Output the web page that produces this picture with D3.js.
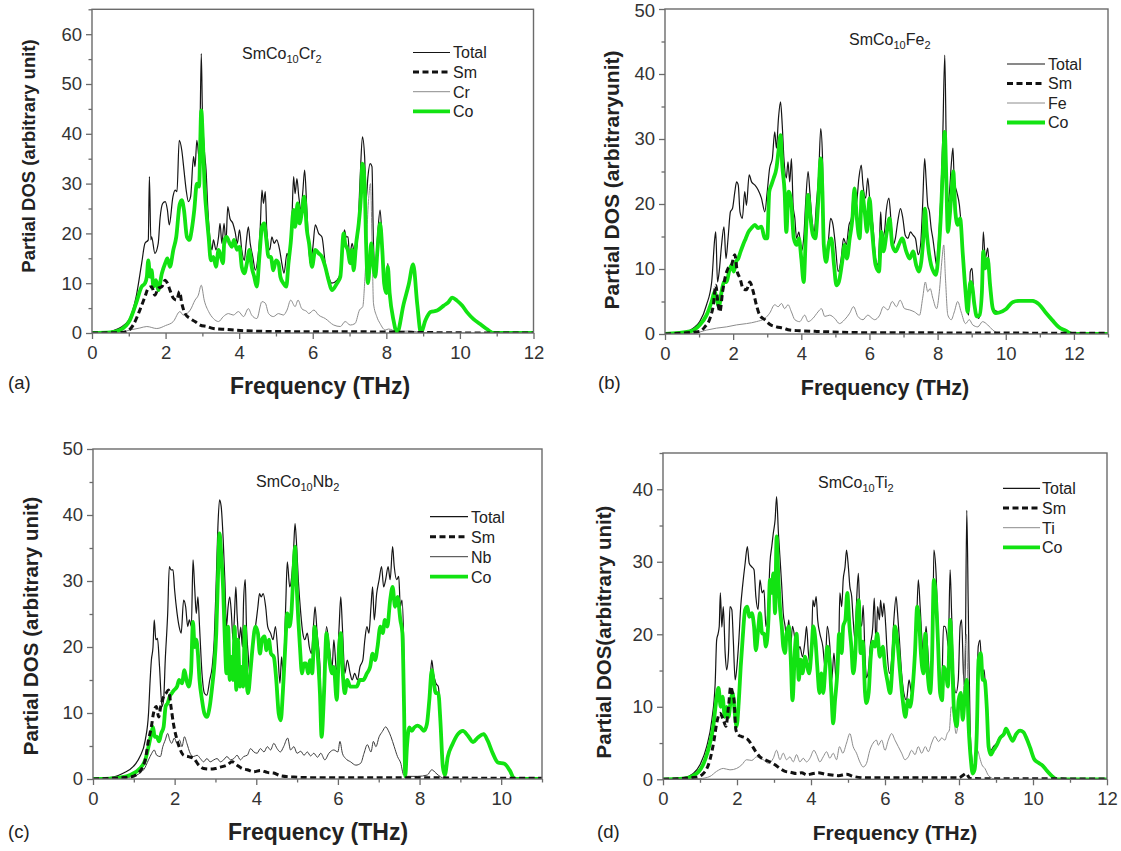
<!DOCTYPE html>
<html>
<head>
<meta charset="utf-8">
<script src="https://cdn.jsdelivr.net/npm/d3@7"></script>
<style>
  body { margin: 0; background: #fff; }
  svg { display: block; font-family: "Liberation Sans", Arial, sans-serif; }
</style>
</head>
<body>
<svg id="chart" width="1121" height="851"></svg>
<script>
// ---------- Phonon partial DOS, [frequency THz, DOS] ----------

// (a) SmCo10Cr2
const totalA = [[0,0],[0.3,0],[0.5,0.3],[0.75,1.0],[1.0,2.6],[1.2,7.3],[1.35,14],[1.44,18],[1.53,18.7],[1.56,31.4],[1.6,18.7],[1.62,19.3],[1.71,16],[1.8,18],[1.85,23],[1.92,26],[1.99,26.4],[2.05,24.7],[2.1,21.7],[2.2,27.4],[2.26,28.7],[2.31,28.4],[2.37,38.7],[2.44,36.7],[2.5,32.7],[2.56,28.7],[2.62,26.4],[2.68,27.4],[2.76,35.4],[2.8,33.4],[2.85,38.7],[2.92,34.7],[2.97,56.1],[3.0,44.7],[3.05,37],[3.1,32.7],[3.15,24.7],[3.21,18.7],[3.26,16.7],[3.3,18.7],[3.37,16.7],[3.44,19.3],[3.48,22],[3.53,18],[3.59,22],[3.64,18],[3.69,25.4],[3.75,23],[3.83,22],[3.89,20.3],[3.95,18],[4.01,20.7],[4.07,16.7],[4.14,14.6],[4.19,18],[4.25,21.3],[4.3,18],[4.37,15.3],[4.44,12.6],[4.5,14.6],[4.57,20.7],[4.62,28.7],[4.66,26],[4.71,28.4],[4.75,20.7],[4.83,16.7],[4.89,19.3],[4.95,18],[5.02,18.7],[5.1,16.7],[5.16,14],[5.22,12],[5.3,16],[5.37,14.6],[5.43,22],[5.48,31.4],[5.52,28],[5.57,31],[5.62,27.4],[5.68,24.7],[5.73,28.4],[5.78,32.7],[5.84,24.7],[5.93,14],[6.0,17],[6.07,21.7],[6.16,20],[6.25,19.3],[6.34,14],[6.43,11.3],[6.52,10],[6.66,10.6],[6.75,12],[6.82,17.3],[6.86,20.7],[6.91,19.3],[6.96,19.3],[7.0,15.3],[7.07,18],[7.15,15.3],[7.22,19.3],[7.29,31.4],[7.35,39.4],[7.41,35.4],[7.45,26.7],[7.5,31.4],[7.56,34],[7.61,33.4],[7.65,18],[7.7,12.6],[7.76,19.3],[7.83,24.7],[7.89,18],[7.94,11.3],[8.0,8.6],[8.04,14],[8.09,8.6],[8.2,2.6],[8.29,0.3],[8.47,6],[8.61,10],[8.73,14],[8.84,6],[8.94,0.3],[9.06,2.6],[9.2,4.3],[9.38,4.6],[9.56,5.6],[9.69,6.3],[9.79,7.2],[9.92,6.6],[10.06,5.6],[10.19,4.3],[10.37,2.9],[10.55,1.9],[10.73,0.9],[10.92,0.1],[11.0,0],[12,0]];
const smA = [[0,0],[0.8,0.1],[0.94,0.3],[1.12,1.6],[1.3,4.6],[1.44,7.3],[1.53,9],[1.62,9.3],[1.71,7.6],[1.8,9],[1.9,9.3],[1.99,10.6],[2.05,10],[2.12,8.6],[2.21,7],[2.3,6.6],[2.38,8.3],[2.44,6],[2.53,3.9],[2.67,2.9],[2.8,2.3],[2.94,1.6],[3.12,1.3],[3.3,0.9],[3.66,0.7],[4.03,0.5],[5,0.3],[8,0.2],[9,0.1],[11,0],[12,0]];
const crA = [[0,0],[0.8,0.2],[1.03,0.6],[1.3,1.0],[1.49,1.3],[1.76,0.9],[2.0,1.5],[2.21,2.3],[2.39,4.3],[2.48,3.6],[2.67,4.6],[2.8,6.6],[2.89,7.6],[2.97,9.6],[3.05,6.6],[3.17,4.3],[3.3,2.9],[3.44,2.3],[3.57,3.3],[3.71,3.9],[3.84,3.6],[3.98,4.3],[4.12,3.3],[4.25,4.9],[4.34,3.6],[4.48,2.9],[4.62,6.3],[4.71,6],[4.8,3.9],[4.93,3.3],[5.07,3.9],[5.2,3.6],[5.3,4.6],[5.4,6.6],[5.52,5.3],[5.6,6.6],[5.7,4.9],[5.84,4.3],[5.89,3.9],[6.03,4.6],[6.16,3.6],[6.34,2.9],[6.57,1.6],[6.75,1.3],[6.88,2.3],[7.02,1.6],[7.15,1.9],[7.27,4.6],[7.36,5.3],[7.42,11.3],[7.52,27],[7.57,30],[7.62,15],[7.65,6],[7.74,3.3],[7.83,1.9],[7.97,0.6],[8.06,0.8],[8.29,0.3],[8.65,0.4],[9.0,0.1],[9.3,0],[12,0]];
const coA = [[0,0],[0.5,0.1],[0.76,0.6],[1.03,2.6],[1.2,6],[1.35,9.3],[1.44,10],[1.49,11.3],[1.53,14.6],[1.58,11.3],[1.62,12.6],[1.67,9.3],[1.74,10.6],[1.8,8.6],[1.9,12],[1.99,14],[2.05,15],[2.12,13.3],[2.21,16.7],[2.29,19.3],[2.38,25.7],[2.44,26.7],[2.5,24.7],[2.58,19.3],[2.65,18.7],[2.71,20.7],[2.78,24.7],[2.85,30],[2.91,29.4],[2.97,44.7],[3.01,39.4],[3.06,29.4],[3.12,23.3],[3.17,19.3],[3.23,14.6],[3.3,15.3],[3.37,13.3],[3.44,16.7],[3.48,16],[3.56,14],[3.6,18.7],[3.66,19.3],[3.74,18],[3.8,17.3],[3.86,18.7],[3.94,16.7],[4.01,17.3],[4.07,13.3],[4.14,12],[4.21,14],[4.28,16.7],[4.34,13.3],[4.41,11.3],[4.48,9.3],[4.55,15.3],[4.62,21.3],[4.68,22],[4.73,19.3],[4.8,15.3],[4.86,15.3],[4.93,12.6],[5.0,14.6],[5.07,14],[5.12,11.3],[5.2,10],[5.28,9.3],[5.34,14],[5.4,18],[5.48,24.7],[5.52,21.3],[5.59,26],[5.64,22],[5.7,24],[5.77,27.4],[5.84,20.7],[5.9,18],[5.98,13.3],[6.07,16.7],[6.16,16],[6.25,15.3],[6.34,13.3],[6.43,10.6],[6.52,8.6],[6.66,10],[6.75,11.3],[6.84,20],[6.88,18],[6.95,16.7],[7.02,14],[7.07,16.7],[7.11,12.6],[7.18,18],[7.25,22],[7.31,27.4],[7.35,34],[7.41,30],[7.45,18],[7.5,10],[7.55,14],[7.59,18],[7.64,14],[7.7,11.3],[7.76,16.7],[7.83,22],[7.89,16.7],[7.94,10],[8.0,8],[8.04,13.3],[8.09,8],[8.2,2.4],[8.29,0],[8.47,5.8],[8.61,9.8],[8.73,13.8],[8.84,5.8],[8.94,0],[9.06,2.5],[9.2,4.2],[9.38,4.5],[9.56,5.5],[9.69,6.2],[9.79,7.1],[9.92,6.5],[10.06,5.5],[10.19,4.2],[10.37,2.8],[10.55,1.8],[10.73,0.8],[10.92,0],[12,0]];

// (b) SmCo10Fe2
const totalB = [[0,0],[0.54,0.2],[0.83,0.9],[1.02,1.9],[1.22,4.5],[1.37,8],[1.46,14.7],[1.49,15.7],[1.54,8],[1.59,9.6],[1.66,13.7],[1.73,16.5],[1.79,11.6],[1.85,14.7],[1.92,18.8],[1.98,19.3],[2.05,21.9],[2.1,23.4],[2.15,22.9],[2.2,18.8],[2.27,17.8],[2.34,21.9],[2.39,19.8],[2.47,24.5],[2.54,23.4],[2.64,22.9],[2.73,22.2],[2.83,20.9],[2.93,18.8],[3.0,21.9],[3.07,25.5],[3.15,27],[3.22,31.1],[3.27,28.6],[3.33,33.2],[3.39,35.7],[3.44,32.2],[3.49,27],[3.56,24],[3.61,26.5],[3.66,23.4],[3.71,27],[3.76,19.8],[3.81,17.8],[3.86,14.7],[3.93,15.7],[4.0,12.7],[4.07,14.7],[4.13,20.4],[4.2,25],[4.25,21.9],[4.31,17.8],[4.38,15.7],[4.44,19.8],[4.51,24.5],[4.57,31.6],[4.62,27.5],[4.66,15.7],[4.73,11.6],[4.8,14.7],[4.86,17.8],[4.93,16.8],[5.0,13.7],[5.08,9.6],[5.17,11.6],[5.24,14.7],[5.32,13.7],[5.4,16.8],[5.47,17.8],[5.53,21.9],[5.61,19.8],[5.69,24],[5.76,26],[5.81,22.9],[5.89,20.9],[5.95,24],[6.02,19.8],[6.1,16.8],[6.18,11.6],[6.25,10.6],[6.3,15.2],[6.33,18.8],[6.37,14.7],[6.44,15.7],[6.49,18.8],[6.57,20.9],[6.64,16.8],[6.69,13.7],[6.76,14.7],[6.83,17.3],[6.91,19.3],[6.98,17.8],[7.05,15.2],[7.13,14.7],[7.2,15.7],[7.28,15.2],[7.35,14.7],[7.43,12.2],[7.5,13.7],[7.56,19.8],[7.62,27],[7.66,24],[7.71,19.8],[7.76,18.8],[7.81,16.3],[7.86,14.7],[7.91,12.7],[7.97,10.6],[8.03,14.7],[8.1,21.9],[8.15,30.1],[8.21,42.9],[8.25,30.1],[8.28,19.8],[8.35,21.9],[8.4,26],[8.45,28.6],[8.49,23.4],[8.56,21.9],[8.64,19.8],[8.72,14.7],[8.79,9.6],[8.85,4.5],[8.91,2.9],[8.96,9.6],[9.01,10.1],[9.06,6],[9.13,2.9],[9.21,2.4],[9.28,4.5],[9.34,15.7],[9.4,11.6],[9.47,13.2],[9.52,9.6],[9.6,4.5],[9.66,3.7],[9.81,3.4],[10.0,3.9],[10.2,5],[10.39,5.2],[10.59,5.2],[10.78,5.2],[10.97,4.7],[11.17,3.4],[11.37,2.2],[11.57,1.1],[11.76,0.6],[11.96,0.1],[12.1,0],[13,0]];
const smB = [[0,0],[1.02,0.4],[1.17,1.1],[1.32,2.4],[1.42,4.5],[1.49,7.5],[1.56,4.5],[1.61,3.4],[1.69,6.5],[1.76,8.6],[1.85,10.1],[1.95,10.6],[2.05,12.2],[2.12,9.6],[2.2,8.6],[2.29,7],[2.39,6.8],[2.49,8],[2.59,6.5],[2.68,4.5],[2.78,2.9],[2.93,2.2],[3.07,1.5],[3.27,1.1],[3.47,0.9],[3.66,0.6],[3.95,0.5],[4.44,0.4],[6,0.2],[10,0.15],[12,0.1],[13,0.1]];
const feB = [[0,0],[0.83,0.1],[1.22,0.6],[1.51,0.9],[1.81,1.1],[2.1,1.4],[2.39,1.6],[2.68,1.9],[2.93,2.4],[3.07,3.2],[3.22,4.5],[3.32,4.2],[3.42,4.7],[3.51,3.9],[3.61,4.5],[3.71,3.4],[3.81,2.2],[3.95,1.9],[4.1,2.9],[4.2,1.9],[4.34,2.4],[4.49,3.4],[4.59,3.9],[4.69,2.7],[4.83,2.9],[4.98,2.4],[5.12,1.6],[5.27,2.2],[5.42,3.2],[5.53,4.2],[5.66,2.7],[5.81,2.2],[5.95,2.9],[6.08,2.4],[6.15,2.2],[6.3,2.9],[6.41,4.2],[6.54,3.7],[6.67,5],[6.79,4.2],[6.9,5.2],[7.03,3.9],[7.18,3.7],[7.32,3.4],[7.47,2.9],[7.56,5.5],[7.64,8],[7.71,6.5],[7.78,7],[7.86,5.5],[7.97,3.9],[8.05,6.5],[8.13,11.6],[8.18,13.7],[8.23,8.6],[8.3,2.9],[8.4,2.2],[8.49,3.4],[8.59,5],[8.69,3.4],[8.82,1.6],[8.93,2.2],[9.03,1.4],[9.18,1.1],[9.32,1.9],[9.47,1.4],[9.62,0.6],[9.81,0.1],[10,0],[13,0]];
const coB = [[0,0],[0.73,0.4],[1.02,1.4],[1.22,2.9],[1.37,5],[1.46,6.5],[1.51,5.5],[1.58,4.2],[1.66,6.5],[1.73,8],[1.81,8],[1.88,9.6],[1.95,10.6],[2.02,9.6],[2.08,11.1],[2.15,11.6],[2.22,12.7],[2.29,13.7],[2.37,14.7],[2.45,15.7],[2.54,16.3],[2.64,16.8],[2.73,16.3],[2.83,16.5],[2.93,14.7],[3.0,14.7],[3.06,21.9],[3.12,22.9],[3.19,24],[3.27,25.5],[3.33,28.1],[3.39,30.6],[3.44,26],[3.51,21.9],[3.56,15.7],[3.63,21.9],[3.71,19.8],[3.78,14.7],[3.86,13.7],[3.93,14.7],[4.0,11.6],[4.07,8],[4.13,14.7],[4.2,21.4],[4.27,17.8],[4.34,15.2],[4.41,14.7],[4.49,19.8],[4.57,27],[4.62,21.9],[4.66,13.7],[4.73,11.1],[4.8,13.7],[4.88,14.7],[4.96,10.6],[5.03,7.5],[5.1,8],[5.2,11.1],[5.27,13.7],[5.34,11.6],[5.42,14.7],[5.5,17.8],[5.56,22.4],[5.63,17.8],[5.71,14.7],[5.78,21.9],[5.86,18.8],[5.93,15.7],[6.0,20.9],[6.08,15.7],[6.18,10.6],[6.28,9.6],[6.35,15.7],[6.41,12.7],[6.51,15.7],[6.59,17.8],[6.67,13.7],[6.77,12.7],[6.86,13.7],[6.96,14.7],[7.08,12.7],[7.18,11.6],[7.28,12.7],[7.37,10.6],[7.45,9.6],[7.52,11.1],[7.58,14.7],[7.63,19.3],[7.68,15.7],[7.74,12.7],[7.81,10.6],[7.88,9.6],[7.95,9.1],[8.03,12.7],[8.1,18.8],[8.15,25],[8.21,31.1],[8.25,25],[8.3,15.7],[8.35,17.8],[8.41,21.9],[8.46,25],[8.52,18.8],[8.59,16.8],[8.66,17.8],[8.74,12.2],[8.82,6.5],[8.88,3.4],[8.96,8],[9.01,7.5],[9.08,4.5],[9.15,2.7],[9.23,2.9],[9.3,6.5],[9.34,12.7],[9.4,10.1],[9.47,11.6],[9.54,7.5],[9.62,3.9],[9.71,3.2],[9.81,3.3],[10.0,3.8],[10.2,4.9],[10.39,5.1],[10.59,5.1],[10.78,5.1],[10.97,4.6],[11.17,3.3],[11.37,2.1],[11.57,1.0],[11.76,0.5],[11.96,0],[13,0]];

// (c) SmCo10Nb2
const totalC = [[0,0],[0.5,0.3],[0.75,0.9],[0.99,1.9],[1.15,3.4],[1.28,5.9],[1.36,9.9],[1.4,15],[1.43,18],[1.47,20],[1.5,24.1],[1.54,21.1],[1.58,21.3],[1.63,17],[1.69,11],[1.73,12],[1.77,18],[1.83,25.1],[1.87,32.2],[1.91,31.7],[1.96,31.7],[2.0,28.6],[2.06,25.1],[2.11,23.1],[2.16,22.1],[2.22,27.1],[2.27,26.1],[2.32,23.1],[2.36,24.1],[2.41,23.1],[2.45,33.2],[2.49,29.1],[2.53,25.1],[2.57,27.6],[2.61,23.1],[2.67,16],[2.73,13],[2.79,12.7],[2.86,15],[2.92,17],[2.97,21.1],[3.02,30.2],[3.06,38.2],[3.1,42.3],[3.14,41.3],[3.19,36.2],[3.23,30.2],[3.27,23.1],[3.31,26.1],[3.35,27.6],[3.39,25.1],[3.43,21.1],[3.46,24],[3.5,29.1],[3.53,25],[3.58,21.1],[3.62,23],[3.66,20],[3.69,27.1],[3.73,30.2],[3.76,23.1],[3.8,19],[3.84,16],[3.88,18],[3.92,21.1],[3.98,23.1],[4.04,26.1],[4.08,28.1],[4.12,27.6],[4.17,28.1],[4.23,26.1],[4.28,23.1],[4.35,22.1],[4.41,21.1],[4.47,23.1],[4.53,19],[4.58,14.5],[4.62,18.5],[4.66,16],[4.72,26.1],[4.76,32.9],[4.82,29.1],[4.86,30.2],[4.91,34.2],[4.95,38.7],[4.99,35.2],[5.03,30.2],[5.09,25.1],[5.14,22.1],[5.19,21.1],[5.25,22.1],[5.3,20],[5.35,19],[5.4,23.1],[5.44,26.1],[5.49,22.1],[5.56,17],[5.6,6.9],[5.66,16],[5.72,23.1],[5.79,20],[5.86,17],[5.9,21.1],[5.97,16],[6.03,23.1],[6.07,27.6],[6.11,23],[6.17,16],[6.23,18],[6.3,16],[6.35,15],[6.41,16],[6.48,15],[6.54,17],[6.61,18],[6.66,21.1],[6.71,23.1],[6.76,22.1],[6.81,26.1],[6.85,29.1],[6.89,24.1],[6.95,28.1],[7.01,30.2],[7.07,32.2],[7.12,29.1],[7.17,30.2],[7.23,32.2],[7.28,30.2],[7.34,35.2],[7.38,32.2],[7.44,30.2],[7.49,30.7],[7.53,26.1],[7.57,27.1],[7.61,21.1],[7.65,0.9],[7.69,4.9],[7.75,7.9],[7.81,7.4],[7.87,7.9],[7.95,8.2],[8.03,7.9],[8.11,7.4],[8.18,8.4],[8.24,13],[8.3,18],[8.34,16],[8.4,14.5],[8.46,14],[8.51,9.9],[8.57,2.9],[8.62,1.4],[8.69,3.4],[8.81,5.4],[8.94,6.9],[9.06,7.4],[9.18,6.7],[9.31,5.7],[9.43,6.4],[9.57,6.9],[9.67,5.9],[9.8,3.9],[9.92,2.6],[10.08,2.4],[10.21,1.4],[10.33,0.1],[10.4,0],[11,0]];
const smC = [[0,0],[0.91,0.3],[1.11,0.9],[1.28,2.9],[1.36,5.9],[1.43,7.9],[1.48,9.9],[1.55,11],[1.61,9.4],[1.66,11],[1.73,12.5],[1.79,13],[1.85,13.5],[1.91,11],[1.97,8.4],[2.06,5.9],[2.14,4.4],[2.22,3.6],[2.34,3.4],[2.47,3.1],[2.59,2.1],[2.71,1.6],[2.87,1.5],[3.0,1.6],[3.12,1.8],[3.28,2.1],[3.41,2.6],[3.53,2.1],[3.65,1.6],[3.78,1.4],[3.94,1.1],[4.1,1.3],[4.27,1.0],[4.43,0.9],[4.59,0.5],[4.92,0.3],[5.41,0.2],[8,0.2],[10,0.1],[11,0.1]];
const nbC = [[0,0],[0.91,0.3],[1.24,1.4],[1.36,2.9],[1.44,3.9],[1.5,4.4],[1.56,3.6],[1.65,3.4],[1.71,4.9],[1.77,5.9],[1.83,6.9],[1.88,5.9],[1.93,5.4],[1.99,6.2],[2.06,5.4],[2.12,5.9],[2.18,4.9],[2.24,6.4],[2.3,5.4],[2.38,3.9],[2.46,3.4],[2.55,3.6],[2.63,3.1],[2.71,2.6],[2.79,3.1],[2.87,2.6],[2.96,2.9],[3.04,3.1],[3.12,2.6],[3.2,2.9],[3.28,3.4],[3.37,2.9],[3.45,3.1],[3.53,3.6],[3.61,2.9],[3.69,3.4],[3.78,3.6],[3.86,4.6],[3.94,4.1],[4.02,3.9],[4.1,4.6],[4.19,4.1],[4.27,4.9],[4.35,4.4],[4.43,5.4],[4.51,4.6],[4.59,4.1],[4.67,4.9],[4.77,6.2],[4.84,4.4],[4.92,4.9],[5.0,3.9],[5.09,4.2],[5.17,3.6],[5.25,4.1],[5.33,3.5],[5.41,3.9],[5.5,3.3],[5.58,3.9],[5.68,2.9],[5.78,3.9],[5.9,4.4],[6.0,4.1],[6.05,5.7],[6.11,3.9],[6.19,3.1],[6.31,2.6],[6.44,2.1],[6.56,2.4],[6.64,3.9],[6.72,5.2],[6.81,4.1],[6.87,5.7],[6.93,4.9],[7.01,6.4],[7.09,7.2],[7.17,7.9],[7.23,7.4],[7.3,6.4],[7.38,4.9],[7.46,3.4],[7.54,2.4],[7.61,0.6],[7.7,0.4],[7.95,0.4],[8.19,0.6],[8.3,1.4],[8.4,0.9],[8.52,0.3],[8.7,0],[11,0]];
const coC = [[0,0],[0.5,0.1],[0.91,0.6],[1.15,1.6],[1.28,2.9],[1.36,4.9],[1.43,6.9],[1.47,7.9],[1.51,6.4],[1.56,6.4],[1.62,5.7],[1.67,6.9],[1.73,7.9],[1.78,11],[1.83,11.5],[1.88,12.5],[1.93,13],[1.99,13.5],[2.06,14],[2.11,15],[2.18,14.5],[2.24,16.5],[2.29,15],[2.34,14],[2.4,16],[2.45,23.8],[2.49,20],[2.53,21.1],[2.57,19],[2.61,15],[2.67,12],[2.73,9.9],[2.79,9.4],[2.86,11],[2.92,14],[2.97,17],[3.02,22.1],[3.06,30.2],[3.1,37.2],[3.14,34.2],[3.19,28.6],[3.23,21.1],[3.27,16],[3.31,23.1],[3.35,15],[3.39,18.5],[3.43,15],[3.47,23.1],[3.51,13.5],[3.55,21.1],[3.6,14],[3.64,17],[3.68,14],[3.72,23.1],[3.76,15],[3.8,13],[3.86,16.5],[3.91,20],[3.98,23.1],[4.04,22.1],[4.09,19],[4.14,21.1],[4.2,21.6],[4.25,19.5],[4.31,21.1],[4.36,19],[4.43,18.5],[4.49,15],[4.55,9.9],[4.6,8.9],[4.65,13],[4.71,20],[4.76,25.1],[4.81,23.1],[4.86,25.1],[4.91,31.2],[4.95,35.2],[4.99,29.1],[5.03,24.1],[5.07,20],[5.12,16],[5.17,17.5],[5.22,17.5],[5.27,16],[5.32,18],[5.37,16],[5.43,23.1],[5.49,20],[5.56,13],[5.6,6.4],[5.66,13],[5.72,22.1],[5.79,18],[5.86,16],[5.9,17],[5.97,12],[6.03,20],[6.07,22.1],[6.11,17],[6.17,13],[6.23,15],[6.3,14],[6.38,14],[6.46,14],[6.54,15],[6.62,15],[6.71,16],[6.79,17],[6.85,19],[6.91,18],[6.97,20],[7.04,23.1],[7.1,22.1],[7.15,24.1],[7.21,23.1],[7.28,27.1],[7.34,29.1],[7.4,26.1],[7.46,27.6],[7.53,24.1],[7.58,22.1],[7.62,11],[7.65,0.4],[7.69,4.8],[7.75,7.8],[7.81,7.3],[7.87,7.8],[7.95,8.1],[8.03,7.8],[8.11,7.3],[8.18,8.3],[8.24,12],[8.3,16.5],[8.34,15],[8.4,13],[8.46,13],[8.51,8.9],[8.57,1.9],[8.62,0.6],[8.69,3.3],[8.81,5.3],[8.94,6.8],[9.06,7.3],[9.18,6.6],[9.31,5.6],[9.43,6.3],[9.57,6.8],[9.67,5.8],[9.8,3.8],[9.92,2.5],[10.08,2.3],[10.21,1.3],[10.33,0],[11,0]];

// (d) SmCo10Ti2
const totalD = [[0,0],[0.55,0.2],[0.82,0.8],[1.0,2],[1.18,4.5],[1.32,8.2],[1.41,13.2],[1.45,19.2],[1.49,20.1],[1.52,21.1],[1.55,25.7],[1.59,21],[1.63,23.8],[1.68,17.4],[1.72,15.1],[1.77,17.4],[1.81,23.8],[1.86,23.4],[1.9,19.2],[1.95,13.7],[1.99,15.1],[2.05,19.2],[2.1,23.8],[2.15,26.6],[2.22,29.8],[2.28,32.1],[2.33,29.8],[2.4,29.3],[2.46,28.9],[2.51,25.2],[2.57,23.4],[2.62,27.5],[2.68,25.7],[2.73,26.1],[2.78,21.1],[2.85,24.7],[2.89,29.8],[2.94,32.1],[2.98,33.9],[3.03,35.8],[3.07,39],[3.12,33.9],[3.16,30.7],[3.21,26.6],[3.25,22.9],[3.3,21.1],[3.34,19.2],[3.4,22],[3.45,18.3],[3.5,21.1],[3.57,19.2],[3.63,17.4],[3.7,18.3],[3.77,16.9],[3.84,19.2],[3.88,21.1],[3.93,17.4],[4.0,15.5],[4.05,24.7],[4.09,23.8],[4.14,25.2],[4.18,22],[4.24,20.1],[4.32,18.3],[4.38,15.5],[4.44,21.1],[4.51,18.3],[4.56,13.7],[4.62,17.4],[4.68,13.7],[4.74,15.5],[4.78,25.7],[4.83,23.8],[4.87,27.5],[4.92,29.3],[4.96,31.6],[5.01,29.3],[5.05,26.6],[5.1,25.2],[5.14,22],[5.19,19.2],[5.23,24.3],[5.28,28.4],[5.32,22.9],[5.37,21.1],[5.41,24],[5.46,17],[5.5,14],[5.55,15],[5.6,18.3],[5.67,21],[5.71,25],[5.76,18.3],[5.8,23.8],[5.85,22],[5.88,24.7],[5.93,22.4],[5.97,24.3],[6.02,21.1],[6.06,17.4],[6.12,14.6],[6.18,16.5],[6.24,22],[6.3,25.2],[6.34,22.9],[6.39,19.2],[6.45,14.6],[6.51,11.9],[6.58,10.9],[6.65,13.7],[6.72,11.9],[6.78,14.6],[6.84,19.2],[6.9,27.5],[6.95,23.8],[7.0,19.2],[7.05,16.5],[7.11,21.1],[7.15,18.3],[7.22,13.7],[7.29,18.3],[7.32,31.6],[7.38,28.4],[7.42,22.9],[7.46,14.6],[7.53,11.9],[7.58,21.1],[7.62,21.1],[7.67,20.1],[7.71,18.3],[7.76,28.9],[7.8,22.9],[7.85,14.6],[7.92,11.9],[7.98,13.7],[8.03,21.1],[8.07,22],[8.12,14.6],[8.16,12.8],[8.21,37.1],[8.25,23.8],[8.3,7.3],[8.35,2.7],[8.41,1.3],[8.46,5.4],[8.52,18.3],[8.57,19.2],[8.62,14.6],[8.68,15.1],[8.73,10.9],[8.79,5],[8.86,4],[8.93,4.5],[9.02,5],[9.11,5.9],[9.2,6.3],[9.27,7],[9.36,6.3],[9.45,5.4],[9.54,6.3],[9.63,6.8],[9.72,6.7],[9.81,5.9],[9.92,4.5],[10.03,2.9],[10.14,2.4],[10.26,2],[10.37,1.3],[10.5,0.6],[10.64,0.1],[10.7,0],[12,0]];
const smD = [[0,0],[0.91,0.3],[1.09,0.8],[1.27,2.7],[1.38,5.4],[1.45,7.7],[1.54,9.1],[1.63,8.2],[1.7,7.3],[1.77,10],[1.83,12.8],[1.88,11.9],[1.92,10.9],[1.97,6.8],[2.04,6.1],[2.13,5.9],[2.22,5.7],[2.31,5.4],[2.4,4.7],[2.51,3.8],[2.62,3.1],[2.76,2.7],[2.89,2.4],[3.03,2],[3.16,1.5],[3.3,1.1],[3.43,1],[3.61,0.8],[3.75,0.9],[3.88,0.6],[4.06,0.8],[4.2,0.9],[4.38,0.7],[4.56,0.6],[4.74,0.5],[4.96,0.7],[5.14,0.4],[5.5,0.2],[8.0,0.2],[8.12,0.6],[8.19,0.8],[8.3,0.1],[12,0.05]];
const tiD = [[0,0],[1.0,0.1],[1.27,0.4],[1.45,1.1],[1.63,1.5],[1.81,1.3],[1.99,1.5],[2.13,2],[2.26,2.7],[2.4,2.6],[2.53,3.1],[2.71,2.7],[2.85,2.2],[2.98,2.9],[3.07,4],[3.16,2.7],[3.25,3.6],[3.34,2.7],[3.43,3.1],[3.52,2.4],[3.61,3.4],[3.7,2.4],[3.79,2.9],[3.88,2.4],[3.97,2.9],[4.08,4],[4.15,3.4],[4.24,2.4],[4.33,3.1],[4.42,3.8],[4.51,2.9],[4.6,3.6],[4.69,2.7],[4.77,4.5],[4.86,3.6],[4.96,5],[5.05,6.3],[5.14,4.5],[5.23,3.6],[5.32,2.4],[5.41,1.7],[5.5,2.2],[5.59,4],[5.68,5],[5.77,5.4],[5.82,4.7],[5.91,5.4],[6.0,4],[6.09,5.4],[6.18,6.3],[6.27,5.4],[6.36,4.5],[6.45,3.6],[6.54,2.7],[6.63,3.1],[6.72,4],[6.81,3.4],[6.9,4.5],[6.99,3.6],[7.09,4.5],[7.17,3.8],[7.26,5],[7.35,5.9],[7.45,5.2],[7.53,5.7],[7.62,5.4],[7.68,6.3],[7.74,6.8],[7.79,10],[7.85,9.1],[7.92,6.3],[7.98,8],[8.04,12],[8.09,9],[8.15,16],[8.2,20],[8.26,8],[8.32,2],[8.4,1],[8.5,4],[8.56,3],[8.62,2],[8.7,1.5],[8.8,0.5],[9.0,0],[12,0]];
const coD = [[0,0],[0.55,0.1],[0.91,0.8],[1.14,2.7],[1.27,5],[1.36,7.3],[1.43,10.5],[1.5,12.6],[1.56,10],[1.61,11.4],[1.67,8.6],[1.72,10],[1.77,8.6],[1.83,10.9],[1.88,11.9],[1.94,9.1],[1.99,7.3],[2.05,10.9],[2.1,15.5],[2.15,19.2],[2.22,23.4],[2.28,23.8],[2.33,22.4],[2.4,22.9],[2.46,21.1],[2.51,17.8],[2.58,21.1],[2.62,22.9],[2.68,20.1],[2.73,20.1],[2.78,18.3],[2.85,22],[2.89,27.5],[2.94,25.7],[2.98,28.4],[3.03,22.9],[3.07,33.5],[3.12,27.5],[3.16,23.8],[3.21,21.1],[3.25,18.3],[3.3,17.4],[3.34,20.1],[3.4,21.1],[3.45,16.9],[3.5,10.9],[3.57,18.3],[3.61,20.1],[3.67,13.7],[3.72,16.5],[3.77,14.6],[3.84,16.9],[3.9,15.5],[3.95,14.6],[4.02,18.3],[4.06,21.1],[4.12,19.2],[4.17,15.5],[4.23,11.9],[4.28,14.6],[4.33,11.9],[4.39,15.5],[4.44,18.3],[4.5,16.5],[4.55,11.9],[4.6,7.7],[4.65,10.9],[4.71,14.6],[4.76,20.1],[4.83,17.4],[4.87,21.1],[4.93,22],[4.98,25.7],[5.04,21.1],[5.09,18.3],[5.14,14.6],[5.19,16.5],[5.23,21.1],[5.29,24.7],[5.34,17.4],[5.4,19],[5.46,12],[5.5,10.5],[5.56,12],[5.61,16.5],[5.67,19],[5.73,18.3],[5.79,20.1],[5.86,16.9],[5.94,18.3],[6.0,15.5],[6.06,13.7],[6.14,11.9],[6.21,16.5],[6.27,21.1],[6.33,19.2],[6.41,14.6],[6.48,10.9],[6.55,8.6],[6.62,10.9],[6.68,10],[6.75,12.8],[6.81,17.4],[6.87,23.8],[6.92,22],[6.97,17.4],[7.04,14.6],[7.09,20.1],[7.14,15.5],[7.22,11.9],[7.27,16.5],[7.32,27.5],[7.38,24.7],[7.43,19.2],[7.49,11.9],[7.54,10.9],[7.59,15.5],[7.65,14.6],[7.7,12.8],[7.76,22],[7.81,17.4],[7.86,10],[7.94,7.3],[7.99,10.9],[8.05,11.9],[8.1,8.2],[8.15,10.9],[8.21,13.7],[8.26,7.3],[8.32,2.7],[8.37,0.8],[8.42,1.3],[8.48,6.3],[8.53,16.5],[8.59,17.4],[8.64,13.7],[8.69,13.7],[8.75,10],[8.8,4.5],[8.86,3.4],[8.93,4],[9.02,4.7],[9.11,5.7],[9.22,6.3],[9.27,7],[9.36,6.1],[9.45,5.3],[9.54,6.2],[9.65,6.7],[9.74,6.5],[9.83,5.6],[9.92,4.4],[10.03,2.8],[10.14,2.3],[10.26,1.9],[10.37,1.2],[10.5,0.5],[10.64,0],[12,0]];

// Legend labels and axis titles
const legendA = ["Total", "Sm", "Cr", "Co"];
const legendB = ["Total", "Sm", "Fe", "Co"];
const legendC = ["Total", "Sm", "Nb", "Co"];
const legendD = ["Total", "Sm", "Ti", "Co"];
const xTitle = "Frequency (THz)";
const yTitles = ["Partial DOS (arbitrary unit)", "Partial DOS (arbitraryunit)", "Partial DOS (arbitrary unit)", "Partial DOS(arbitrary unit)"];

// ---------- styles ----------
const GREEN = "#12e312";
const styleTotal = { color: "#151515", width: 1.2, dash: null };
const styleSm = { color: "#111", width: 3, dash: "6,3.5" };
const styleLight = { color: "#8c8c8c", width: 1, dash: null };
const styleDark = { color: "#3c3c3c", width: 1, dash: null };
const styleCo = { color: GREEN, width: 3.8, dash: null };

// ---------- panel layout ----------
const panels = [
  { tag: "(a)", tagX: 8, tagY: 389, left: 92, right: 533.5, bottom: 333, top: 9.3, xMax: 12, xLabMax: 12, yMax: 65,
    title: ["SmCo", "10", "Cr", "2"], titleX: 242, titleY: 59,
    xTitleX: 320, xTitleY: 394, xTitleSize: 23, yTitle: yTitles[0], yTitleX: 35, yTitleY: 156, yTitleSize: 18.5,
    legend: legendA, legX0: 413, legX1: 450, legTx: 453, legY: 52.5, legDy: 19.6,
    series: [[totalA, styleTotal], [crA, styleLight], [coA, styleCo], [smA, styleSm]], xStyle: styleLight },
  { tag: "(b)", tagX: 598, tagY: 389, left: 665, right: 1108, bottom: 334, top: 9, xMax: 13, xLabMax: 12, yMax: 50,
    title: ["SmCo", "10", "Fe", "2"], titleX: 849, titleY: 45,
    xTitleX: 885, xTitleY: 395, xTitleSize: 21.5, yTitle: yTitles[1], yTitleX: 619, yTitleY: 180, yTitleSize: 21,
    legend: legendB, legX0: 1007, legX1: 1045, legTx: 1048, legY: 64, legDy: 19.5,
    series: [[totalB, styleTotal], [feB, styleLight], [coB, styleCo], [smB, styleSm]], xStyle: styleLight },
  { tag: "(c)", tagX: 8, tagY: 838, left: 93, right: 542, bottom: 779, top: 449, xMax: 11, xLabMax: 10, yMax: 50,
    title: ["SmCo", "10", "Nb", "2"], titleX: 256, titleY: 487,
    xTitleX: 318, xTitleY: 840, xTitleSize: 23, yTitle: yTitles[2], yTitleX: 38, yTitleY: 626, yTitleSize: 20.5,
    legend: legendC, legX0: 430, legX1: 468, legTx: 471, legY: 516.7, legDy: 20,
    series: [[totalC, styleTotal], [nbC, styleDark], [coC, styleCo], [smC, styleSm]], xStyle: styleDark },
  { tag: "(d)", tagX: 597, tagY: 838, left: 663, right: 1107, bottom: 779.3, top: 453, xMax: 12, xLabMax: 12, yMax: 45,
    title: ["SmCo", "10", "Ti", "2"], titleX: 818, titleY: 488,
    xTitleX: 895, xTitleY: 840, xTitleSize: 21, yTitle: yTitles[3], yTitleX: 611, yTitleY: 632, yTitleSize: 20.5,
    legend: legendD, legX0: 1003, legX1: 1040, legTx: 1042, legY: 488.3, legDy: 19.7,
    series: [[totalD, styleTotal], [tiD, styleLight], [coD, styleCo], [smD, styleSm]], xStyle: styleLight }
];

const svg = d3.select("#chart");
const AXIS = "#6b6b6b";

panels.forEach((p, i) => {
  const g = svg.append("g").attr("class", "panel");
  const x = d3.scaleLinear().domain([0, p.xMax]).range([p.left, p.right]);
  const y = d3.scaleLinear().domain([0, p.yMax]).range([p.bottom, p.top]);

  const clipId = "clip" + i;
  svg.append("clipPath").attr("id", clipId).append("rect")
    .attr("x", p.left).attr("y", p.top - 2)
    .attr("width", p.right - p.left).attr("height", p.bottom - p.top + 2);

  // curves
  const line = d3.line().x(d => x(d[0])).y(d => y(d[1])).curve(d3.curveMonotoneX);
  const plot = g.append("g").attr("clip-path", `url(#${clipId})`);
  p.series.forEach(([data, st]) => {
    plot.append("path").datum(data)
      .attr("d", line)
      .attr("fill", "none")
      .attr("stroke", st.color)
      .attr("stroke-width", st.width)
      .attr("stroke-linejoin", "round")
      .attr("stroke-dasharray", st.dash);
  });

  // frame
  g.append("rect")
    .attr("x", p.left).attr("y", p.top)
    .attr("width", p.right - p.left).attr("height", p.bottom - p.top)
    .attr("fill", "none").attr("stroke", AXIS).attr("stroke-width", 1.4);

  // x axis: majors every 2 THz, minors every 1 THz
  const xMajor = d3.range(0, p.xLabMax + 0.001, 2);
  const xMinor = d3.range(1, p.xMax + 0.001, 2);
  g.append("g").attr("transform", `translate(0,${p.bottom})`)
    .call(d3.axisBottom(x).tickValues(xMajor).tickSize(6).tickPadding(7).tickFormat(d3.format("d")));
  g.append("g").attr("transform", `translate(0,${p.bottom})`)
    .call(d3.axisBottom(x).tickValues(xMinor).tickSize(3.5).tickFormat(""));

  // y axis: majors every 10, minors every 5
  const yMajor = d3.range(0, p.yMax + 0.001, 10);
  const yMinor = d3.range(5, p.yMax + 0.001, 10);
  const ay = g.append("g").attr("transform", `translate(${p.left},0)`)
    .call(d3.axisLeft(y).tickValues(yMajor).tickSize(6).tickPadding(4).tickFormat(d3.format("d")));
  g.append("g").attr("transform", `translate(${p.left},0)`)
    .call(d3.axisLeft(y).tickValues(yMinor).tickSize(3.5).tickFormat(""));
  // keep a label sitting on the very top edge inside the page
  ay.selectAll(".tick text").filter(v => y(v) < 12).attr("y", 2);

  g.selectAll(".domain").remove();
  g.selectAll(".tick line").attr("stroke", AXIS).attr("stroke-width", 1.3);
  g.selectAll(".tick text").attr("font-size", 18.5).attr("fill", "#333")
    .attr("font-family", "'Liberation Sans', Arial, sans-serif");

  // axis titles
  g.append("text")
    .attr("x", p.xTitleX).attr("y", p.xTitleY)
    .attr("text-anchor", "middle").attr("font-weight", "bold")
    .attr("font-size", p.xTitleSize).attr("fill", "#222")
    .text(xTitle);
  g.append("text")
    .attr("transform", `translate(${p.yTitleX},${p.yTitleY}) rotate(-90)`)
    .attr("text-anchor", "middle").attr("font-weight", "bold")
    .attr("font-size", p.yTitleSize).attr("fill", "#222")
    .text(p.yTitle);

  // panel tag
  g.append("text").attr("x", p.tagX).attr("y", p.tagY)
    .attr("font-size", 18.5).attr("fill", "#222").text(p.tag);

  // compound name with subscripts
  const t = g.append("text").attr("x", p.titleX).attr("y", p.titleY)
    .attr("font-size", 16).attr("fill", "#222");
  t.append("tspan").text(p.title[0]);
  t.append("tspan").attr("dy", 4).attr("font-size", 11).text(p.title[1]);
  t.append("tspan").attr("dy", -4).text(p.title[2]);
  t.append("tspan").attr("dy", 4).attr("font-size", 11).text(p.title[3]);

  // legend
  const legStyles = [styleTotal, styleSm, p.xStyle, styleCo];
  p.legend.forEach((name, k) => {
    const ly = p.legY + k * p.legDy;
    const st = legStyles[k];
    g.append("line")
      .attr("x1", p.legX0).attr("x2", p.legX1).attr("y1", ly).attr("y2", ly)
      .attr("stroke", st.color).attr("stroke-width", st.width)
      .attr("stroke-dasharray", st.dash);
    g.append("text").attr("x", p.legTx).attr("y", ly + 5.8)
      .attr("font-size", 16).attr("fill", "#222").text(name);
  });
});
</script>
</body>
</html>
